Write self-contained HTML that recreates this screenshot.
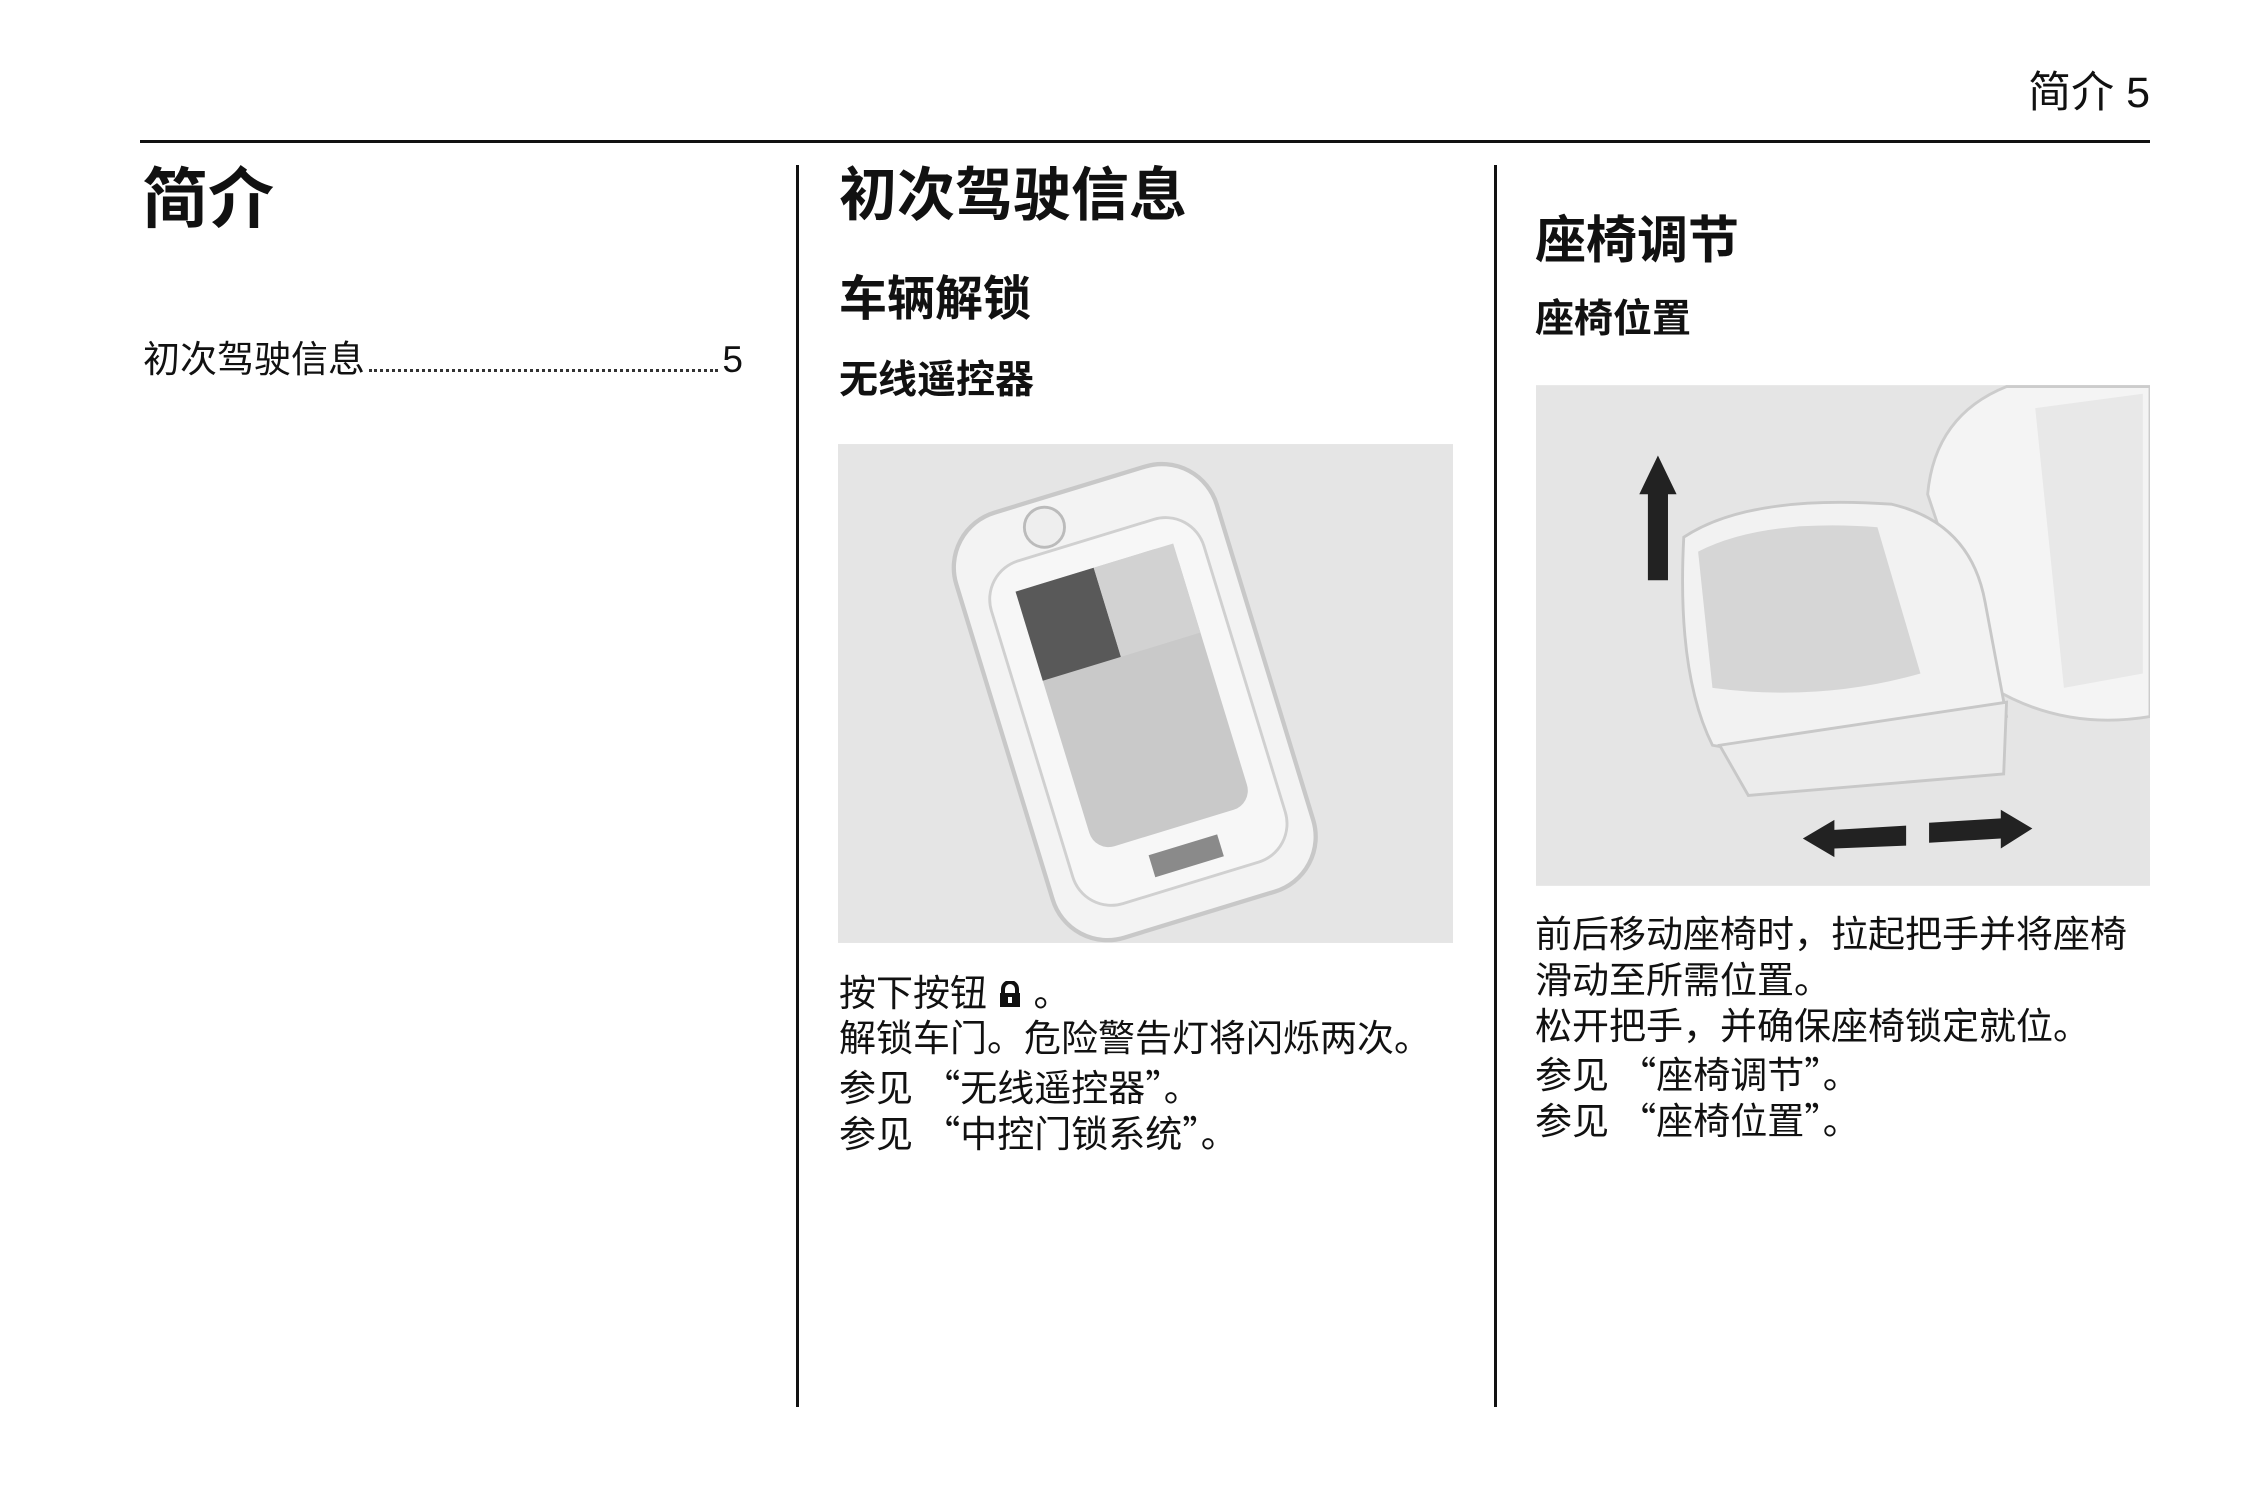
<!DOCTYPE html>
<html><head><meta charset="utf-8"><style>
body{margin:0;width:2246px;height:1500px;background:#fff;position:relative;overflow:hidden;font-family:"Liberation Sans","Noto Sans CJK SC",sans-serif;color:#111}
.a{position:absolute;white-space:nowrap;line-height:1}
.b{font-weight:bold}
.q{font-family:"Noto Sans CJK SC",sans-serif}
.t{font-size:37px}
</style></head><body>
<div class="a" style="right:96px;top:72px;font-size:43px">简介 5</div>
<div style="position:absolute;left:140px;top:140px;width:2010px;height:3px;background:#111"></div>
<div style="position:absolute;left:796px;top:165px;width:3px;height:1242px;background:#111"></div>
<div style="position:absolute;left:1494px;top:165px;width:3px;height:1242px;background:#111"></div>

<div class="a b" style="left:142px;top:166px;font-size:66px">简介</div>
<div class="a" style="left:143px;top:341px;width:600px;font-size:37px;display:flex;align-items:flex-end"><span>初次驾驶信息</span><span style="flex:1;border-bottom:3px dotted #333;margin:0 4px 6px"></span><span>5</span></div>

<div class="a b" style="left:839px;top:167px;font-size:58px">初次驾驶信息</div>
<div class="a b" style="left:839px;top:276px;font-size:48px">车辆解锁</div>
<div class="a b" style="left:839px;top:361px;font-size:39px">无线遥控器</div>

<svg style="position:absolute;left:838px;top:444px" width="615" height="499" viewBox="585 310 429 348">
<rect x="585" y="310" width="429" height="348" fill="#e5e5e5"/>
<g transform="rotate(-17 792 490)">
<rect x="697" y="335" width="190" height="310" rx="40" fill="#f3f3f3" stroke="#c8c8c8" stroke-width="3"/>
<rect x="715" y="372" width="155" height="250" rx="28" fill="#f7f7f7" stroke="#d0d0d0" stroke-width="2"/>
<rect x="735" y="392" width="115" height="190" rx="14" fill="#c9c9c9"/>
<rect x="735" y="392" width="57" height="65" fill="#595959"/>
<rect x="792" y="392" width="58" height="65" fill="#d2d2d2"/>
<rect x="770" y="595" width="50" height="16" fill="#8a8a8a"/>
</g>
<circle cx="729" cy="368" r="14" fill="#eee" stroke="#bbb" stroke-width="2"/>
</svg>

<div class="a t" style="left:839px;top:975px">按下按钮 <svg width="26" height="28" viewBox="0 0 26 28" style="vertical-align:-3px"><path d="M6 12 V8 a7 7 0 0 1 14 0 V12" fill="none" stroke="#111" stroke-width="4"/><rect x="3" y="12" width="20" height="14" fill="#111"/><rect x="11" y="16" width="4" height="6" fill="#fff"/></svg> 。</div>
<div class="a t" style="left:839px;top:1020px">解锁车门。危险警告灯将闪烁两次。</div>
<div class="a t" style="left:839px;top:1067px">参见 <span class="q">“</span>无线遥控器<span class="q">”</span>。</div>
<div class="a t" style="left:839px;top:1113px">参见 <span class="q">“</span>中控门锁系统<span class="q">”</span>。</div>

<div class="a b" style="left:1535px;top:215px;font-size:51px">座椅调节</div>
<div class="a b" style="left:1535px;top:300px;font-size:39px">座椅位置</div>

<svg style="position:absolute;left:1536px;top:385px" width="614" height="501" viewBox="1072 269 428 349">
<rect x="1072" y="269" width="428" height="349" fill="#e5e5e5"/>
<path d="M1345 345 Q1350 290 1400 270 L1500 270 L1500 500 Q1440 510 1390 480 Z" fill="#f4f4f4" stroke="#ccc" stroke-width="2"/>
<path d="M1420 285 L1495 275 L1495 470 L1440 480Z" fill="#e8e8e8"/>
<path d="M1175 375 Q1220 345 1320 352 Q1375 365 1385 420 L1400 500 Q1300 540 1195 520 Q1170 470 1175 375Z" fill="#f2f2f2" stroke="#c8c8c8" stroke-width="2"/>
<path d="M1185 385 Q1230 362 1310 368 L1340 470 Q1270 490 1195 480Z" fill="#d6d6d6"/>
<path d="M1200 520 L1400 490 L1398 540 L1220 555Z" fill="#ececec" stroke="#c8c8c8" stroke-width="2"/>
<path d="M1150 405 L1150 345 L1144 345 L1157 318 L1170 345 L1164 345 L1164 405Z" fill="#222"/>
<path d="M1258 585 L1280 572 L1280 579 L1330 576 L1330 590 L1280 592 L1280 598Z" fill="#222"/>
<path d="M1418 578 L1396 565 L1396 571 L1346 574 L1346 588 L1396 585 L1396 592Z" fill="#222"/>
</svg>

<div class="a t" style="left:1535px;top:916px">前后移动座椅时，拉起把手并将座椅</div>
<div class="a t" style="left:1535px;top:962px">滑动至所需位置。</div>
<div class="a t" style="left:1535px;top:1008px">松开把手，并确保座椅锁定就位。</div>
<div class="a t" style="left:1535px;top:1054px">参见 <span class="q">“</span>座椅调节<span class="q">”</span>。</div>
<div class="a t" style="left:1535px;top:1100px">参见 <span class="q">“</span>座椅位置<span class="q">”</span>。</div>
</body></html>
